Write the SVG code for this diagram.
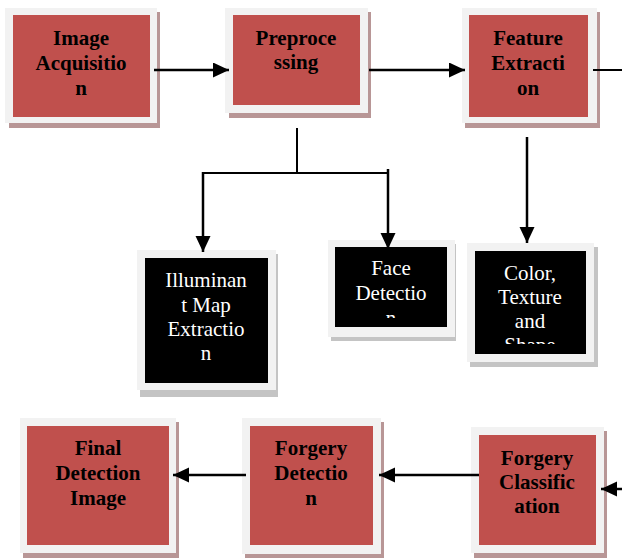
<svg xmlns="http://www.w3.org/2000/svg" width="622" height="560" viewBox="0 0 622 560">
<style>
.fr{fill:#f2f2f2}
.shr{fill:#b89696}
.shg{fill:#c4c4c4}
.red{fill:#c0504d}
.blk{fill:#000}
.tb{font-family:"Liberation Serif","Times New Roman",serif;font-weight:bold;font-size:21px;fill:#000;text-anchor:middle}
.tw{font-family:"Liberation Serif","Times New Roman",serif;font-size:21px;fill:#fff;text-anchor:middle}
.ln{stroke:#000;stroke-width:2.5;fill:none}
.ln2{stroke:#000;stroke-width:2;fill:none}
</style>
<defs>
<marker id="ah" markerUnits="userSpaceOnUse" markerWidth="18" markerHeight="16" refX="16" refY="7.5" orient="auto">
<path d="M0,0 L16,7.5 L0,15 Z" fill="#000"/>
</marker>
<clipPath id="cf"><rect x="335" y="247" width="112" height="71"/></clipPath>
<clipPath id="cc"><rect x="475" y="251" width="111" height="93"/></clipPath>
</defs>
<rect width="622" height="560" fill="#fff"/>
<g id="n1">
<rect class="shr" x="9" y="12" width="151" height="116"/>
<rect class="fr" x="5" y="8" width="152" height="115"/>
<rect class="red" x="13" y="15" width="137" height="102"/>
<text class="tb" x="81" y="45">Image</text>
<text class="tb" x="81" y="70">Acquisitio</text>
<text class="tb" x="81" y="95">n</text>
</g>
<g id="n2">
<rect class="shr" x="229" y="12" width="142" height="106"/>
<rect class="fr" x="225" y="8" width="143" height="105"/>
<rect class="red" x="233" y="15" width="127" height="90"/>
<text class="tb" x="296" y="45">Preproce</text>
<text class="tb" x="296" y="69">ssing</text>
</g>
<g id="n3">
<rect class="shr" x="465" y="12" width="135" height="116"/>
<rect class="fr" x="462" y="8" width="135" height="115"/>
<rect class="red" x="469" y="15" width="119" height="102"/>
<text class="tb" x="528" y="45">Feature</text>
<text class="tb" x="528" y="70">Extracti</text>
<text class="tb" x="528" y="95">on</text>
</g>
<g id="n4">
<rect class="shg" x="140" y="254" width="138" height="143"/>
<rect class="fr" x="137" y="250" width="139" height="140"/>
<rect class="blk" x="145" y="258" width="123" height="125"/>
<text class="tw" x="206" y="287">Illuminan</text>
<text class="tw" x="206" y="312">t Map</text>
<text class="tw" x="206" y="336">Extractio</text>
<text class="tw" x="206" y="360">n</text>
</g>
<g id="n5">
<rect class="shg" x="331" y="244" width="125" height="97"/>
<rect class="fr" x="328" y="240" width="127" height="97"/>
<rect class="blk" x="335" y="247" width="112" height="80"/>
<g clip-path="url(#cf)">
<text class="tw" x="391" y="275">Face</text>
<text class="tw" x="391" y="300">Detectio</text>
<text class="tw" x="391" y="325">n</text>
</g>
</g>
<g id="n6">
<rect class="shg" x="470" y="247" width="128" height="120"/>
<rect class="fr" x="467" y="243" width="127" height="119"/>
<rect class="blk" x="475" y="251" width="111" height="103"/>
<g clip-path="url(#cc)">
<text class="tw" x="530" y="280">Color,</text>
<text class="tw" x="530" y="304">Texture</text>
<text class="tw" x="530" y="328">and</text>
<text class="tw" x="530" y="352">Shape</text>
</g>
</g>
<g id="n7">
<rect class="shr" x="23" y="422" width="156" height="136"/>
<rect class="fr" x="20" y="418" width="156" height="135"/>
<rect class="red" x="27" y="426" width="142" height="119"/>
<text class="tb" x="98" y="455">Final</text>
<text class="tb" x="98" y="480">Detection</text>
<text class="tb" x="98" y="505">Image</text>
</g>
<g id="n8">
<rect class="shr" x="245" y="422" width="139" height="136"/>
<rect class="fr" x="242" y="418" width="139" height="136"/>
<rect class="red" x="250" y="426" width="123" height="119"/>
<text class="tb" x="311" y="455">Forgery</text>
<text class="tb" x="311" y="480">Detectio</text>
<text class="tb" x="311" y="505">n</text>
</g>
<g id="n9">
<rect class="shr" x="474" y="431" width="133" height="127"/>
<rect class="fr" x="471" y="427" width="133" height="126"/>
<rect class="red" x="479" y="435" width="117" height="110"/>
<text class="tb" x="537" y="465">Forgery</text>
<text class="tb" x="537" y="489">Classific</text>
<text class="tb" x="537" y="513">ation</text>
</g>
<g id="connectors">
<line class="ln" x1="154" y1="70" x2="229" y2="70" marker-end="url(#ah)"/>
<line class="ln" x1="369" y1="70" x2="465" y2="70" marker-end="url(#ah)"/>
<line class="ln2" x1="593" y1="70" x2="622" y2="70"/>
<line class="ln2" x1="297" y1="128" x2="297" y2="173"/>
<line class="ln2" x1="203" y1="173" x2="388" y2="173"/>
<line class="ln" x1="203" y1="172" x2="203" y2="252" marker-end="url(#ah)"/>
<line class="ln" x1="388" y1="169" x2="388" y2="249" marker-end="url(#ah)"/>
<line class="ln" x1="527" y1="137" x2="527" y2="243" marker-end="url(#ah)"/>
<line class="ln" x1="479" y1="475" x2="379" y2="475" marker-end="url(#ah)"/>
<line class="ln" x1="246" y1="475" x2="173" y2="475" marker-end="url(#ah)"/>
<line class="ln" x1="622" y1="489" x2="601" y2="489" marker-end="url(#ah)"/>
</g>
</svg>
